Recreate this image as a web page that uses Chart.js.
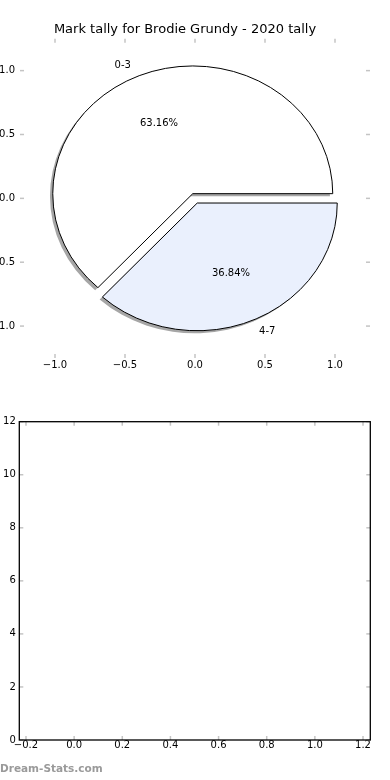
<!DOCTYPE html>
<html>
<head>
<meta charset="utf-8">
<script src="https://cdn.jsdelivr.net/npm/chart.js@4/dist/chart.umd.min.js"></script>
<style>
  html, body { margin: 0; padding: 0; background: #fff; width: 390px; height: 780px; overflow: hidden; }
  canvas { position: absolute; left: 0; }
  #c1 { top: 0; }
  #c2 { top: 390px; }
  #wm { position: absolute; left: 0; top: 762px; font: bold 10.5px "DejaVu Sans", sans-serif; color: #9a9a9a; white-space: nowrap; }
</style>
</head>
<body>
<canvas id="c1" width="390" height="390"></canvas>
<canvas id="c2" width="390" height="390"></canvas>
<div id="wm">Dream-Stats.com</div>
<script>
// ---- data ----
const chartTitle = 'Mark tally for Brodie Grundy - 2020 tally';
const sliceLabels = ['0-3', '4-7'];
const sliceValues = [12, 7];
const pieTicks = [-1.0, -0.5, 0.0, 0.5, 1.0];
const emptyXTicks = [-0.2, 0.0, 0.2, 0.4, 0.6, 0.8, 1.0, 1.2];
const emptyYTicks = [0, 2, 4, 6, 8, 10, 12];

// ---- style ----
const FONT = '"DejaVu Sans", "Liberation Sans", sans-serif';
const sliceColors = ['#ffffff', '#eaf0fd'];
const EXPLODE = [0.04, 0.04];
const START_ANGLE = 0;
const SHADOW = 'rgba(77,77,77,0.5)';
const TICK_COLOR = '#c4c4c4';

const fmt1 = v => (v < 0 ? '\u2212' : '') + Math.abs(v).toFixed(1);

const piePlugin = {
  id: 'pie',
  afterDatasetsDraw(chart) {
    const { ctx, scales: { x, y } } = chart;
    const total = sliceValues.reduce((a, b) => a + b, 0);
    const rx = x.getPixelForValue(1) - x.getPixelForValue(0);
    const ry = y.getPixelForValue(0) - y.getPixelForValue(1);
    let start = START_ANGLE;
    const wedges = sliceValues.map((v, i) => {
      const t1 = start, t2 = start + 360 * v / total;
      start = t2;
      const mid = (t1 + t2) / 2 * Math.PI / 180;
      return { i, v, t1, t2, mid, ox: EXPLODE[i] * Math.cos(mid), oy: EXPLODE[i] * Math.sin(mid) };
    });
    const path = (w, dx, dy) => {
      const cx = x.getPixelForValue(w.ox + dx), cy = y.getPixelForValue(w.oy + dy);
      ctx.beginPath();
      ctx.moveTo(cx, cy);
      ctx.ellipse(cx, cy, rx, ry, 0, -w.t1 * Math.PI / 180, -w.t2 * Math.PI / 180, true);
      ctx.closePath();
    };
    ctx.save();
    wedges.forEach(w => { path(w, -0.02, -0.02); ctx.fillStyle = SHADOW; ctx.fill(); });
    wedges.forEach(w => {
      path(w, 0, 0);
      ctx.fillStyle = sliceColors[w.i]; ctx.fill();
      ctx.lineWidth = 1; ctx.strokeStyle = '#000'; ctx.stroke();
    });
    ctx.font = '10px ' + FONT;
    ctx.fillStyle = '#000';
    ctx.textBaseline = 'middle';
    wedges.forEach(w => {
      const lx = w.ox + 1.1 * Math.cos(w.mid), ly = w.oy + 1.1 * Math.sin(w.mid);
      ctx.textAlign = lx < 0 ? 'right' : 'left';
      ctx.fillText(sliceLabels[w.i], x.getPixelForValue(lx), y.getPixelForValue(ly));
      const px = w.ox + 0.6 * Math.cos(w.mid), py = w.oy + 0.6 * Math.sin(w.mid);
      ctx.textAlign = 'center';
      ctx.fillText((100 * w.v / total).toFixed(2) + '%', x.getPixelForValue(px), y.getPixelForValue(py));
    });
    ctx.restore();
  }
};

const innerTicks = {
  id: 'innerTicks',
  afterDraw(chart, args, opts) {
    const { ctx, chartArea: a, scales: { x, y } } = chart;
    const L = 4;
    ctx.save();
    const line = (x1, y1, x2, y2) => { ctx.beginPath(); ctx.moveTo(x1, y1); ctx.lineTo(x2, y2); ctx.stroke(); };
    ctx.strokeStyle = TICK_COLOR;
    ctx.lineWidth = 1.5;
    x.ticks.forEach(t => {
      const p = x.getPixelForValue(t.value);
      line(p, a.bottom, p, a.bottom - L);
      line(p, a.top, p, a.top + L);
    });
    y.ticks.forEach(t => {
      const p = y.getPixelForValue(t.value);
      line(a.left, p, a.left + L, p);
      line(a.right, p, a.right - L, p);
    });
    if (opts.frame) {
      ctx.strokeStyle = '#000';
      ctx.lineWidth = 1.3;
      ctx.strokeRect(a.left, a.top, a.right - a.left, a.bottom - a.top);
    }
    ctx.restore();
  }
};

const tickFont = { family: FONT, size: 10 };
const noGrid = { display: false, drawTicks: false, tickLength: 0 };

new Chart(document.getElementById('c1'), {
  type: 'scatter',
  data: { datasets: [{ data: [] }] },
  options: {
    responsive: false,
    animation: false,
    layout: { padding: { left: 0, right: 20, top: 0, bottom: 0 } },
    plugins: {
      legend: { display: false },
      tooltip: { enabled: false },
      title: {
        display: true, text: chartTitle, color: '#000',
        font: { family: FONT, size: 13, weight: 'normal' },
        padding: { top: 22.2, bottom: 0.9 }
      },
      innerTicks: { frame: false }
    },
    scales: {
      x: {
        type: 'linear', min: -1.25, max: 1.25,
        afterBuildTicks: s => { s.ticks = pieTicks.map(v => ({ value: v })); },
        afterFit: s => { s.height = 32; },
        grid: noGrid, border: { display: false },
        ticks: { padding: 1, color: '#000', font: tickFont, maxRotation: 0, autoSkip: false, callback: v => fmt1(v) }
      },
      y: {
        type: 'linear', min: -1.25, max: 1.25,
        afterBuildTicks: s => { s.ticks = pieTicks.map(v => ({ value: v })); },
        afterFit: s => { s.width = 20; },
        grid: noGrid, border: { display: false },
        ticks: { padding: 5, color: '#000', font: tickFont, autoSkip: false, callback: v => fmt1(v) }
      }
    }
  },
  plugins: [piePlugin, innerTicks]
});

new Chart(document.getElementById('c2'), {
  type: 'scatter',
  data: { datasets: [{ data: [] }] },
  options: {
    responsive: false,
    animation: false,
    layout: { padding: { left: 0, right: 19.7, top: 31.7, bottom: 0 } },
    plugins: {
      legend: { display: false },
      tooltip: { enabled: false },
      title: { display: false },
      innerTicks: { frame: true }
    },
    scales: {
      x: {
        type: 'linear', min: -0.2278, max: 1.2303,
        afterBuildTicks: s => { s.ticks = emptyXTicks.map(v => ({ value: v })); },
        afterFit: s => { s.height = 40; },
        grid: noGrid, border: { display: false },
        ticks: { padding: -1, color: '#000', font: tickFont, maxRotation: 0, autoSkip: false, callback: v => fmt1(v) }
      },
      y: {
        type: 'linear', min: 0, max: 12,
        afterBuildTicks: s => { s.ticks = emptyYTicks.map(v => ({ value: v })); },
        afterFit: s => { s.width = 19.3; },
        grid: noGrid, border: { display: false },
        ticks: { padding: 3.5, color: '#000', font: tickFont, autoSkip: false, callback: v => String(v) }
      }
    }
  },
  plugins: [innerTicks]
});
</script>
</body>
</html>
